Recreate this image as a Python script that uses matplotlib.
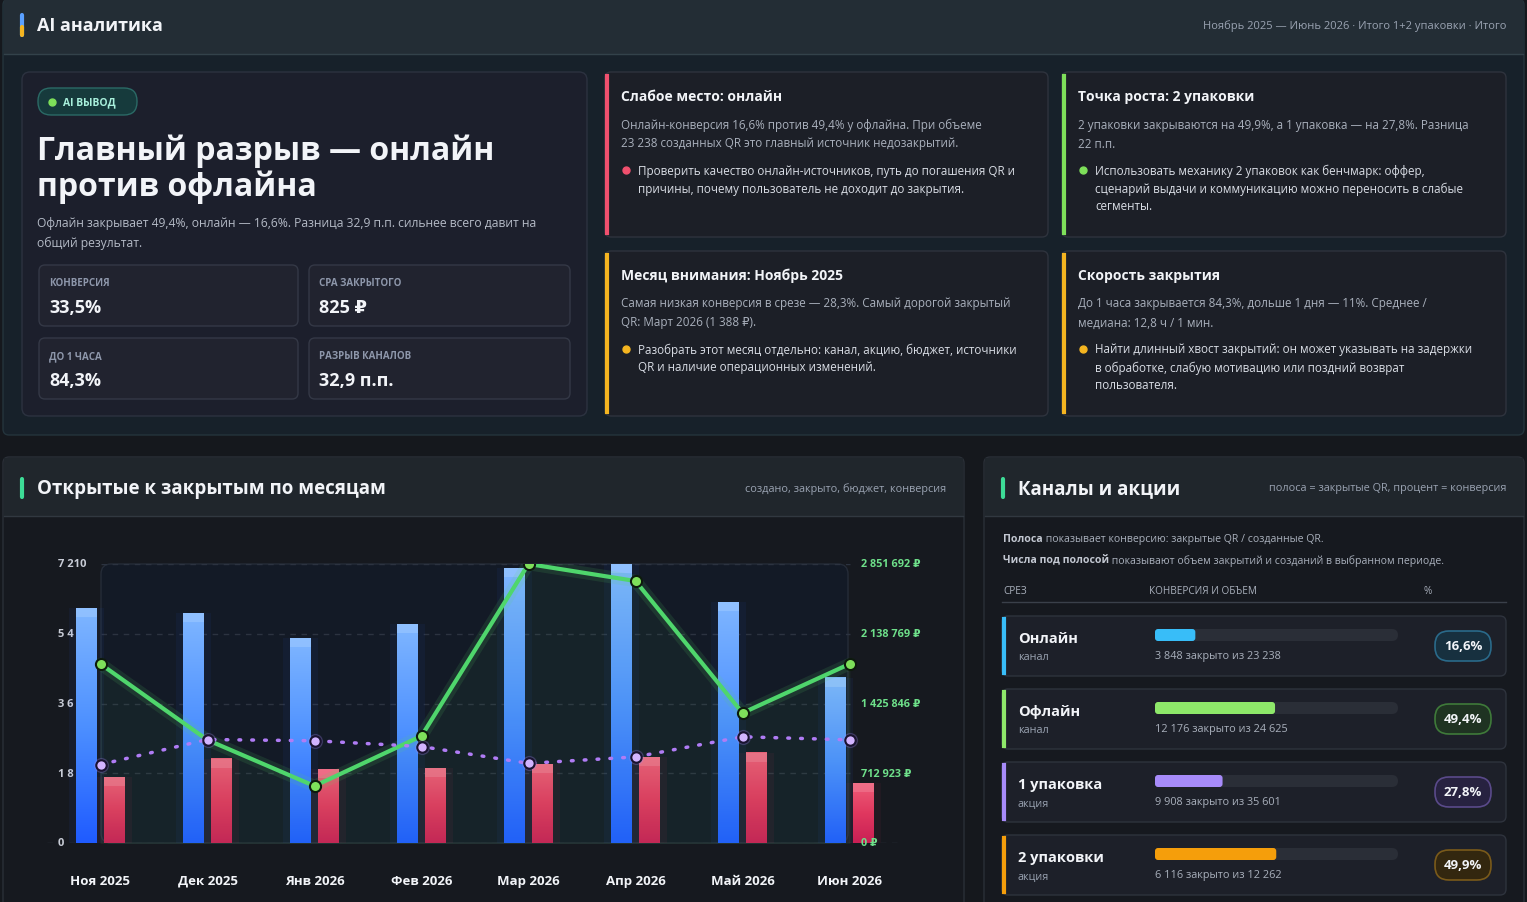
import matplotlib
matplotlib.use("Agg")
import matplotlib.pyplot as plt
from matplotlib.patches import FancyBboxPatch, Rectangle
from matplotlib.colors import LinearSegmentedColormap
import matplotlib.transforms as mtransforms
import numpy as np

plt.rcParams['font.family'] = ['Open Sans', 'DejaVu Sans']

# ---- data ----
months = ["Ноя 2025", "Дек 2025", "Янв 2026", "Фев 2026", "Мар 2026", "Апр 2026", "Май 2026", "Июн 2026"]
created = [6072, 5943, 5297, 5659, 7106, 7210, 6227, 4264]
closed = [1705, 2171, 1912, 1938, 2041, 2222, 2326, 1550]
budget = [1829600, 1052700, 582600, 1093600, 2851692, 2677900, 1328700, 1829600]
conversion = [28.3, 36.5, 36.1, 34.2, 28.7, 30.8, 37.4, 36.4]
left_ticks = [0, 1803, 3605, 5408, 7210]
left_tick_labels = ["0", "1 8", "3 6", "5 4", "7 210"]
right_ticks = [0, 712923, 1425846, 2138769, 2851692]
right_tick_labels = ["0 ₽", "712 923 ₽", "1 425 846 ₽", "2 138 769 ₽", "2 851 692 ₽"]

seg_names = ["Онлайн", "Офлайн", "1 упаковка", "2 упаковки"]
seg_types = ["канал", "канал", "акция", "акция"]
seg_closed = ["3 848", "12 176", "9 908", "6 116"]
seg_created = ["23 238", "24 625", "35 601", "12 262"]
seg_conv = [16.6, 49.4, 27.8, 49.9]
seg_colors = ["#38bdf8", "#8ee86a", "#a78bfa", "#f59e0b"]

metric_labels = ["КОНВЕРСИЯ", "CPA ЗАКРЫТОГО", "ДО 1 ЧАСА", "РАЗРЫВ КАНАЛОВ"]
metric_values = ["33,5%", "825 ₽", "84,3%", "32,9 п.п."]

W, H = 1527, 903
fig = plt.figure(figsize=(W / 100, H / 100), dpi=100)
fig.patch.set_facecolor("#15181d")
bg = fig.add_axes([0, 0, 1, 1])
bg.set_xlim(0, W)
bg.set_ylim(H, 0)
bg.axis("off")

WHITE = "#f2f4f8"
GRAY = "#9aa3b2"
LIGHT = "#d9dde5"


def box(x0, y0, x1, y1, fc, ec="none", r=8, lw=1, z=1, alpha=1):
    p = FancyBboxPatch((x0, y0), x1 - x0, y1 - y0, boxstyle=f"round,pad=0,rounding_size={r}",
                       fc=fc, ec=ec, lw=lw, zorder=z, alpha=alpha, mutation_aspect=1)
    bg.add_patch(p)


def txt(x, y, s, size=9, color=WHITE, weight="normal", ha="left", va="center", z=5):
    return bg.text(x, y, s, fontsize=size, color=color, fontweight=weight, ha=ha, va=va, zorder=z)


# ---- top section ----
box(3, 0, 1524, 436, "#17212a", "#24343c", r=6, z=0)
bg.add_patch(Rectangle((4, 1), 1519, 54, fc="#232d35", zorder=0.5))
bg.plot([4, 1523], [55, 55], color="#33424a", lw=1, zorder=0.6)
bg.plot([22, 22], [16, 36], color="#5aa0ff", lw=3, solid_capstyle="round", zorder=2)
bg.plot([22, 22], [28, 36], color="#f5b520", lw=3, solid_capstyle="round", zorder=2)
txt(37, 26, "AI аналитика", 13, weight="bold")
txt(1506, 26, "Ноябрь 2025 — Июнь 2026 · Итого 1+2 упаковки · Итого", 8, GRAY, ha="right")

# left summary card
box(22, 73, 587, 417, "#1c1f2c", "#2c3240", r=8, z=1)
box(38, 89, 137, 116, "#163a3c", "#2b6a66", r=13, z=2)
bg.plot([52], [102.5], "o", color="#7ee05a", ms=5, zorder=3)
txt(63, 103, "AI ВЫВОД", 7.5, "#a8f0dc", "bold")
txt(37, 151, "Главный разрыв — онлайн", 23, weight="bold")
txt(37, 187, "против офлайна", 23, weight="bold")
txt(37, 224, "Офлайн закрывает 49,4%, онлайн — 16,6%. Разница 32,9 п.п. сильнее всего давит на", 8.7, "#b4bac6")
txt(37, 243, "общий результат.", 8.7, "#b4bac6")
mboxes = [(39, 266, 298, 327), (309, 266, 570, 327), (39, 339, 298, 400), (309, 339, 570, 400)]
for (x0, y0, x1, y1), lab, val in zip(mboxes, metric_labels, metric_values):
    box(x0, y0, x1, y1, "#21232f", "#343846", r=6, z=2)
    txt(x0 + 10, y0 + 18, lab, 7, "#8e97ab", "bold")
    txt(x0 + 10, y0 + 42, val, 13, weight="bold")

cards = [
    (605, 73, 1048, 238, "#f0506e", "Слабое место: онлайн",
     ["Онлайн-конверсия 16,6% против 49,4% у офлайна. При объеме",
      "23 238 созданных QR это главный источник недозакрытий."],
     ["Проверить качество онлайн-источников, путь до погашения QR и",
      "причины, почему пользователь не доходит до закрытия."]),
    (1062, 73, 1506, 238, "#7ee05a", "Точка роста: 2 упаковки",
     ["2 упаковки закрываются на 49,9%, а 1 упаковка — на 27,8%. Разница",
      "22 п.п."],
     ["Использовать механику 2 упаковок как бенчмарк: оффер,",
      "сценарий выдачи и коммуникацию можно переносить в слабые",
      "сегменты."]),
    (605, 252, 1048, 417, "#f5b520", "Месяц внимания: Ноябрь 2025",
     ["Самая низкая конверсия в срезе — 28,3%. Самый дорогой закрытый",
      "QR: Март 2026 (1 388 ₽)."],
     ["Разобрать этот месяц отдельно: канал, акцию, бюджет, источники",
      "QR и наличие операционных изменений."]),
    (1062, 252, 1506, 417, "#f5b520", "Скорость закрытия",
     ["До 1 часа закрывается 84,3%, дольше 1 дня — 11%. Среднее /",
      "медиана: 12,8 ч / 1 мин."],
     ["Найти длинный хвост закрытий: он может указывать на задержки",
      "в обработке, слабую мотивацию или поздний возврат",
      "пользователя."]),
]
for x0, y0, x1, y1, col, title, body, bullet in cards:
    box(x0, y0, x1, y1, "#1c1f27", "#2e333d", r=6, z=1)
    bg.plot([x0 + 1.5, x0 + 1.5], [y0 + 4, y1 - 4], color=col, lw=3, zorder=3)
    txt(x0 + 16, y0 + 24, title, 10, weight="bold")
    for i, line in enumerate(body):
        txt(x0 + 16, y0 + 52 + 19 * i, line, 8.4, "#a9b0bc")
    by = y0 + 98
    bg.plot([x0 + 21], [by], "o", color=col, ms=5, zorder=3)
    for i, line in enumerate(bullet):
        txt(x0 + 33, by + 18 * i, line, 8.4, LIGHT)

# ---- bottom left panel ----
box(3, 458, 964, 915, "#16191f", "#2a2f37", r=6, z=0)
bg.add_patch(Rectangle((4, 459), 959, 58, fc="#20262c", zorder=0.5))
bg.plot([4, 963], [517, 517], color="#313840", lw=1, zorder=0.6)
bg.plot([22, 22], [480, 498], color="#3ddc97", lw=3, solid_capstyle="round", zorder=2)
txt(37, 489, "Открытые к закрытым по месяцам", 13.5, weight="bold")
txt(946, 489, "создано, закрыто, бюджет, конверсия", 7.8, GRAY, ha="right")
box(101, 565, 848, 844, "#131a26", "#252c38", r=10, z=0.7)

# chart axes
axl, axr = 47 / W, 903 / W
axb, axt = 1 - 844 / H, 1 - 565 / H
ax = fig.add_axes([axl, axb, axr - axl, axt - axb])
ax.set_facecolor("none")
for s in ax.spines.values():
    s.set_visible(False)
x = np.arange(len(months))
for v in left_ticks[1:]:
    ax.plot([0, 7], [v, v], color="#2c3340", lw=1, ls=(0, (4, 4)), zorder=0)
ax.plot([-0.5, 7.5], [0, 0], color="#2c3340", lw=1, ls=(0, (4, 4)), zorder=0)
tr = mtransforms.blended_transform_factory(ax.transAxes, ax.transData)
for v, lab in zip(left_ticks, left_tick_labels):
    ax.text(11 / 856, v, lab, transform=tr, fontsize=8, color="#c8ccd6", fontweight="bold",
            ha="left", va="center", zorder=0.5)

bw = 0.19
ax.bar(x - 0.13, created, bw * 1.7, color="#2f6bff", alpha=0.06, zorder=1)
ax.bar(x + 0.13, closed, bw * 1.7, color="#e0335f", alpha=0.06, zorder=1)
blue = ax.bar(x - 0.13, created, bw, color="#3a7bff", zorder=2)
red = ax.bar(x + 0.13, closed, bw, color="#dd3560", zorder=2)
grad = np.linspace(0, 1, 256).reshape(-1, 1)
bcm = LinearSegmentedColormap.from_list("b", ["#1f5bff", "#4d90ff", "#7fb6ff"])
rcm = LinearSegmentedColormap.from_list("r", ["#c91f55", "#e0385f", "#ee5c78"])
for bars, cm, capc in ((blue, bcm, "#9cc8ff"), (red, rcm, "#f07a92")):
    for b in bars:
        bx, bw_, bh = b.get_x(), b.get_width(), b.get_height()
        ax.imshow(grad, cmap=cm, aspect="auto", extent=(bx, bx + bw_, 0, bh), origin="lower", zorder=2.1)
        ax.bar(bx + bw_ / 2, 240, bw_, bottom=bh - 240, color=capc, alpha=0.6, zorder=2.2)
        b.set_visible(False)
ax.set_xlim(-0.5, 7.5)
ax.set_ylim(0, 7210)

ax2 = ax.twinx()
ax2.set_ylim(0, 2851692)
ax2.axis("off")
ax2.fill_between(x, budget, 0, color="#5ad86a", alpha=0.05, zorder=1)
ax2.plot(x, budget, color="#5ad86a", lw=9, alpha=0.12, zorder=3, solid_capstyle="round")
ax2.plot(x, budget, color="#4fd66c", lw=3, zorder=4)
ax2.plot(x, budget, "o", ms=8, mfc="#7ee05a", mec="#0d1a0d", mew=1.5, zorder=5)
rtr = mtransforms.blended_transform_factory(ax2.transAxes, ax2.transData)
for v, lab in zip(right_ticks, right_tick_labels):
    ax2.text(814 / 856, v, lab, transform=rtr, fontsize=7.8, color="#6ee08a", fontweight="bold",
             ha="left", va="center", zorder=1)

ax3 = ax.twinx()
ax3.set_ylim(2.6, 94)
ax3.axis("off")
ax3.plot(x, conversion, color="#b07cf5", lw=2.5, ls=(0, (0.5, 3.2)), dash_capstyle="round", zorder=4)
ax3.plot(x, conversion, "o", ms=10, color="#a78bfa", alpha=0.2, zorder=4)
ax3.plot(x, conversion, "o", ms=7.5, mfc="#d2b4ff", mec="#1a1330", mew=1.5, zorder=5)

ax.set_yticks([])
ax.set_xticks(x)
ax.set_xticklabels(months, fontsize=9.5, fontweight="bold", color=WHITE)
ax.tick_params(axis="x", length=0, pad=22)

# ---- bottom right panel ----
box(984, 458, 1524, 915, "#16191f", "#2a2f37", r=6, z=0)
bg.add_patch(Rectangle((985, 459), 538, 58, fc="#20262c", zorder=0.5))
bg.plot([985, 1523], [517, 517], color="#313840", lw=1, zorder=0.6)
bg.plot([1003, 1003], [480, 498], color="#3ddc97", lw=3, solid_capstyle="round", zorder=2)
txt(1018, 489, "Каналы и акции", 13.5, weight="bold")
txt(1506, 489, "полоса = закрытые QR, процент = конверсия", 7.8, GRAY, ha="right")

fig.canvas.draw()
rend = fig.canvas.get_renderer()
inv = bg.transData.inverted()
for yy, b1, rest in ((540, "Полоса", " показывает конверсию: закрытые QR / созданные QR."),
                     (561, "Числа под полосой", " показывают объем закрытий и созданий в выбранном периоде.")):
    t = txt(1003, yy, b1, 7.6, "#c3c8d2", "bold")
    ext = t.get_window_extent(rend)
    xe = inv.transform((ext.x1, 0))[0]
    txt(xe, yy, rest, 7.6, "#a9b0bc")
txt(1003, 592, "СРЕЗ", 7.2, "#a9b0bc")
txt(1149, 592, "КОНВЕРСИЯ И ОБЪЕМ", 7.2, "#a9b0bc")
txt(1423, 592, "%", 7.2, "#a9b0bc")
bg.plot([1002, 1506], [603, 603], color="#3a404a", lw=1, zorder=2)

track0, track1 = 1155, 1398
pill_fcs = ["#17303f", "#1f3322", "#272240", "#33270f"]
pill_ecs = ["#2a6a8a", "#3f7a3a", "#5a4a8a", "#7a5a1a"]
for i, (nm, tp, cl, cr, cv, col) in enumerate(zip(seg_names, seg_types, seg_closed, seg_created, seg_conv, seg_colors)):
    top = 617 + 73 * i
    box(1002, top, 1506, top + 60, "#1d2029", "#2e333d", r=6, z=1)
    bg.plot([1003.5, 1003.5], [top + 3, top + 57], color=col, lw=3, zorder=3)
    txt(1018, top + 22, nm, 10.5, weight="bold")
    txt(1018, top + 41, tp, 7.8, GRAY)
    box(track0, top + 13, track1, top + 25, "#2a2e37", r=6, z=2)
    box(track0, top + 13, track0 + (track1 - track0) * cv / 100, top + 25, col, r=3, z=3)
    txt(track0, top + 40, f"{cl} закрыто из {cr}", 7.8, "#a9b0bc")
    box(1435, top + 15, 1491, top + 45, pill_fcs[i], pill_ecs[i], r=14, lw=1.2, z=2)
    txt(1463, top + 30, f"{cv:.1f}%".replace(".", ","), 9.5, weight="bold", ha="center")

fig.savefig("out.png", dpi=100, facecolor=fig.get_facecolor())
